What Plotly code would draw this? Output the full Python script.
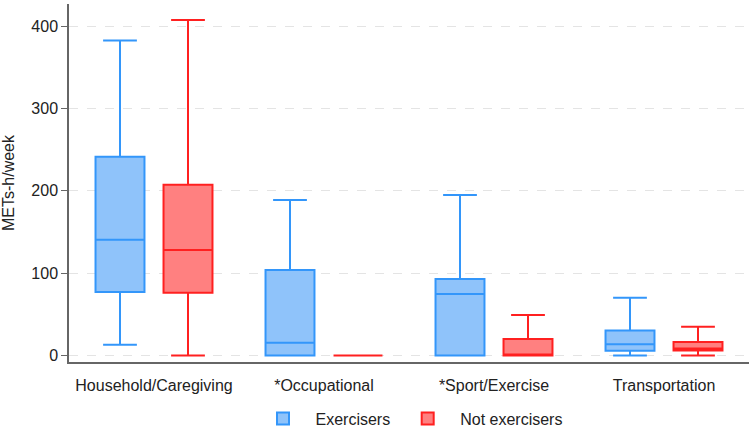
import plotly.graph_objects as go

categories = ["Household/Caregiving", "*Occupational", "*Sport/Exercise", "Transportation"]

ex_low = [13, 0, 0, 0]
ex_q1 = [77, 0, 0, 5.6]
ex_med = [140.5, 15.3, 74.5, 13.7]
ex_q3 = [241.5, 103.7, 93, 30.4]
ex_high = [382.5, 188.8, 195, 70]

nex_low = [0, 0, 0, 0]
nex_q1 = [76, 0, 0, 6]
nex_med = [128, 0, 0.5, 8.5]
nex_q3 = [207.4, 0, 19.8, 16.2]
nex_high = [407.5, 0, 49, 34.8]

y_ticks = [0, 100, 200, 300, 400]

regular = "Liberation Sans, Arial, sans-serif"

fig = go.Figure()
fig.add_trace(go.Box(
    name="Exercisers", x=categories,
    q1=ex_q1, median=ex_med, q3=ex_q3, lowerfence=ex_low, upperfence=ex_high,
    fillcolor="rgb(143,195,250)", line=dict(color="rgb(51,150,250)", width=2),
    whiskerwidth=0.69, boxpoints=False,
))
fig.add_trace(go.Box(
    name="Not exercisers", x=categories,
    q1=nex_q1, median=nex_med, q3=nex_q3, lowerfence=nex_low, upperfence=nex_high,
    fillcolor="rgb(255,128,128)", line=dict(color="rgb(255,32,32)", width=2),
    whiskerwidth=0.69, boxpoints=False,
))

fig.update_layout(
    width=749, height=429,
    margin=dict(l=69, r=0, t=4, b=67),
    paper_bgcolor="white", plot_bgcolor="white",
    boxmode="group", boxgap=0.2, boxgroupgap=0.28,
    font=dict(family=regular, size=16, color="#222"),
    showlegend=True,
    legend=dict(orientation="h", x=0.5, xanchor="center",
                yref="container", y=0.064, yanchor="top",
                font=dict(size=16, family=regular), itemwidth=55,
                bgcolor="rgba(0,0,0,0)"),
    xaxis=dict(showline=True, linecolor="#666", linewidth=1.5, ticks="outside",
               ticklen=8, tickcolor="rgba(0,0,0,0)", automargin=False,
               showgrid=False, tickfont=dict(size=16, family=regular), range=[-0.5, 3.5]),
    yaxis=dict(range=[-8, 427], tickvals=y_ticks, showline=True, linecolor="#666",
               linewidth=1.5, ticks="outside", ticklen=6, tickcolor="#666",
               showgrid=True, gridcolor="#e4e4e4", griddash="dash", gridwidth=1,
               zeroline=False, tickfont=dict(size=16), automargin=False,
               title=dict(text="METs-h/week", font=dict(size=16), standoff=14)),
)

fig.write_html("out.html")
